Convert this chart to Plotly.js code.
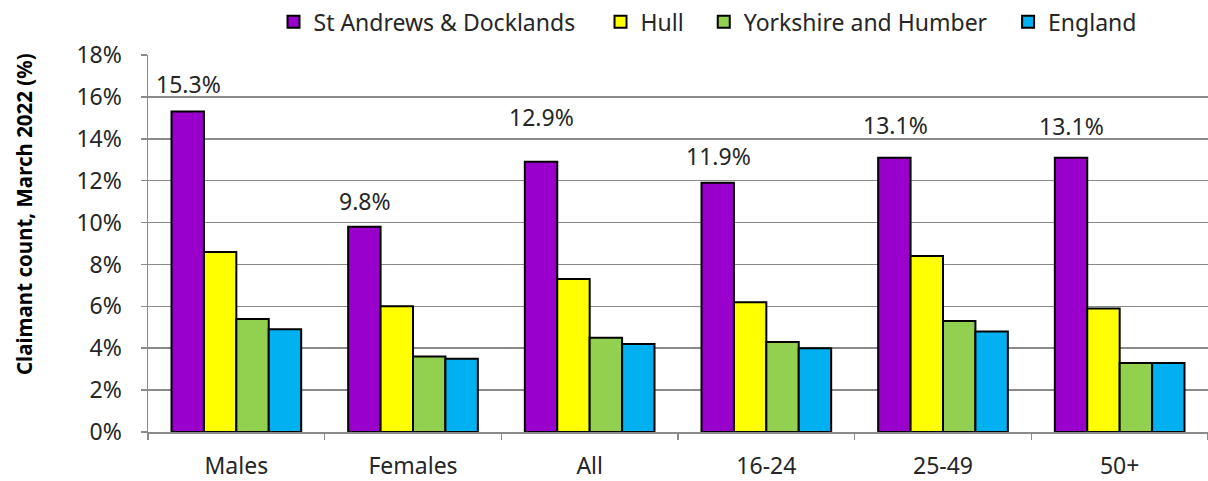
<!DOCTYPE html>
<html>
<head>
<meta charset="utf-8">
<script src="https://cdn.plot.ly/plotly-3.0.1.min.js"></script>
<style>html,body{margin:0;padding:0;background:#fff;}#chart{width:1208px;height:481px;}</style>
</head>
<body>
<div id="chart"></div>
<script>
const categories = ['Males', 'Females', 'All', '16-24', '25-49', '50+'];
const seriesNames = ['St Andrews & Docklands', 'Hull', 'Yorkshire and Humber', 'England'];
const stAndrews = [15.3, 9.8, 12.9, 11.9, 13.1, 13.1];
const hull = [8.6, 6.0, 7.3, 6.2, 8.4, 5.9];
const yorkshire = [5.4, 3.6, 4.5, 4.3, 5.3, 3.3];
const england = [4.9, 3.5, 4.2, 4.0, 4.8, 3.3];
const yTickVals = [0, 2, 4, 6, 8, 10, 12, 14, 16, 18];
const yTitle = 'Claimant count, March 2022 (%)';

const colors = ['#9900CC', '#FFFF00', '#92D050', '#00B0F0'];
const labelShift = [28, 26, 45, 27, 33, 32];
const legendX = [0.1184, 0.4269, 0.5243, 0.8114];
const FONT = '"Noto Sans", "Open Sans", sans-serif';
const TXT = '#262626';

const allSeries = [stAndrews, hull, yorkshire, england];
const legendIds = ['legend', 'legend2', 'legend3', 'legend4'];
const traces = allSeries.map((vals, i) => ({
  type: 'bar',
  name: seriesNames[i],
  x: categories,
  y: vals,
  legend: legendIds[i],
  marker: {color: colors[i], line: {color: '#000', width: 2}},
  hoverinfo: 'x+y+name'
}));

const annotations = categories.map((c, i) => ({
  x: c, y: stAndrews[i], xref: 'x', yref: 'y',
  text: stAndrews[i].toFixed(1) + '%',
  showarrow: false, xshift: -48, yshift: labelShift[i],
  font: {family: FONT, size: 23, color: TXT}
}));
annotations.push({
  xref: 'paper', yref: 'paper', x: -0.117, y: 0.578, xanchor: 'center', yanchor: 'middle',
  text: '<b>' + yTitle + '</b>', textangle: -90, showarrow: false,
  font: {family: FONT, size: 20.5, color: '#000'}
});

const layout = {
  width: 1208, height: 481,
  margin: {l: 148, r: 0, t: 55, b: 49},
  paper_bgcolor: '#fff', plot_bgcolor: '#fff',
  barmode: 'group', bargap: 0.266, bargroupgap: 0,
  font: {family: FONT, size: 23, color: TXT},
  showlegend: true,
  xaxis: {
    type: 'category', showline: true, linecolor: '#8a8a8a', linewidth: 1.5,
    ticks: 'outside', tickson: 'boundaries', ticklen: 6, tickcolor: '#8a8a8a', tickwidth: 1.5,
    showgrid: false, tickfont: {family: FONT, size: 23, color: TXT}, ticklabelstandoff: 13,
    fixedrange: true
  },
  yaxis: {
    range: [0, 18], tickvals: yTickVals, ticktext: yTickVals.map(v => v + '%'),
    showline: true, linecolor: '#8a8a8a', linewidth: 1.5,
    ticks: 'outside', ticklen: 6, tickcolor: '#8a8a8a', tickwidth: 1.5,
    showgrid: true, gridcolor: '#8a8a8a', gridwidth: 1.5, zeroline: false,
    tickfont: {family: FONT, size: 23, color: TXT}, ticklabelstandoff: 14,
    fixedrange: true
  },
  annotations: annotations
};
legendIds.forEach((id, i) => {
  layout[id] = {orientation: 'h', x: legendX[i], xanchor: 'left', y: 1.088, yanchor: 'middle',
    font: {family: FONT, size: 23, color: TXT}, bgcolor: 'rgba(0,0,0,0)', borderwidth: 0};
});

Plotly.newPlot('chart', traces, layout, {displayModeBar: false, staticPlot: true});
</script>
</body>
</html>
